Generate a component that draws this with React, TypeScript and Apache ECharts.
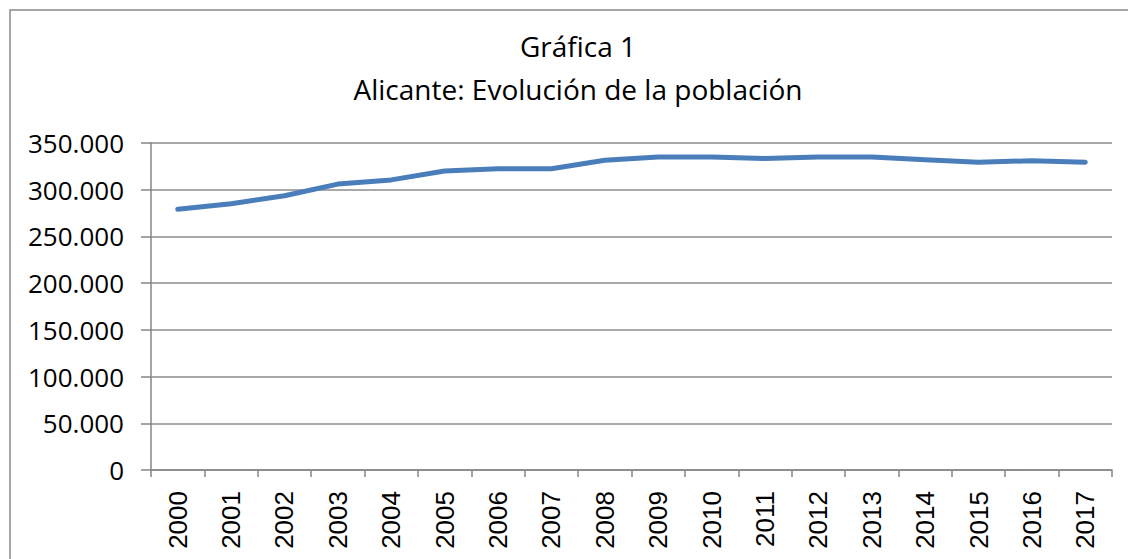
import React, { useEffect, useRef } from "react";
import * as echarts from "echarts";

const years = ["2000","2001","2002","2003","2004","2005","2006","2007","2008","2009","2010","2011","2012","2013","2014","2015","2016","2017"];
const population = [279000, 285000, 293500, 306000, 310500, 320000, 322500, 322500, 331500, 335000, 335000, 333500, 335000, 335000, 332000, 329500, 331000, 329500];
const yTicks = { min: 0, max: 350000, interval: 50000 };
const titleLines = ["Gráfica 1", "Alicante: Evolución de la población"];

const fmt = (v: number) => String(v).replace(/\B(?=(\d{3})+(?!\d))/g, ".");

export default function App() {
  const ref = useRef<HTMLDivElement>(null);
  useEffect(() => {
    const chart = echarts.init(ref.current!, undefined, { renderer: "svg" });
    const font = "'Open Sans', 'Noto Sans', sans-serif";
    const xfont = "'Liberation Sans', Arial, sans-serif";
    chart.setOption({
      animation: false,
      backgroundColor: "#ffffff",
      graphic: [
        {
          type: "rect",
          shape: { x: 10, y: 10, width: 1140, height: 570 },
          style: { fill: "none", stroke: "#8a8a8a", lineWidth: 1.5 },
          z: 0,
        },
        {
          type: "text",
          x: 578,
          y: 32,
          style: { text: titleLines[0], font: `28px ${font}`, fill: "#000", textAlign: "center", textVerticalAlign: "top" },
        },
        {
          type: "text",
          x: 578,
          y: 75,
          style: { text: titleLines[1], font: `28px ${font}`, fill: "#000", textAlign: "center", textVerticalAlign: "top" },
        },
      ],
      grid: { left: 151, right: 16, top: 143, bottom: 89, containLabel: false },
      xAxis: {
        type: "category",
        data: years,
        boundaryGap: true,
        axisLine: { lineStyle: { color: "#868686", width: 1.5 } },
        axisTick: { show: true, length: 7, alignWithLabel: false, lineStyle: { color: "#868686", width: 1.5 } },
        axisLabel: { rotate: 90, margin: 21, fontSize: 26, color: "#000", fontFamily: xfont, interval: 0 },
        splitLine: { show: false },
      },
      yAxis: {
        type: "value",
        min: yTicks.min,
        max: yTicks.max,
        interval: yTicks.interval,
        axisLine: { show: true, lineStyle: { color: "#868686", width: 1.5 } },
        axisTick: { show: true, length: 10, inside: false, lineStyle: { color: "#868686", width: 1.5 } },
        axisLabel: { margin: 27, fontSize: 26, color: "#000", fontFamily: font, formatter: (v: number) => fmt(v) },
        splitLine: { show: true, lineStyle: { color: "#8c8c8c", width: 1.5 } },
      },
      series: [
        {
          type: "line",
          data: population,
          symbol: "none",
          smooth: false,
          lineStyle: { color: "#4a7ebb", width: 5, cap: "round", join: "round" },
        },
      ],
    });
    return () => chart.dispose();
  }, []);
  return (
    <div
      ref={ref}
      style={{ position: "absolute", left: 0, top: 0, width: 1128, height: 559 }}
    />
  );
}
